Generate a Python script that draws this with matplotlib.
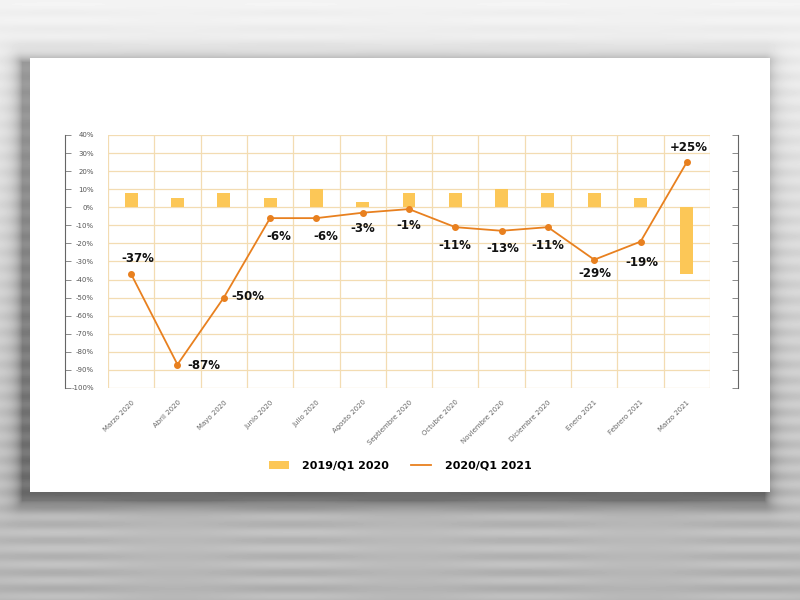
import numpy as np
import matplotlib.pyplot as plt
from matplotlib.patches import Rectangle, Patch
from matplotlib.lines import Line2D

meses = ['Marzo 2020', 'Abril 2020', 'Mayo 2020', 'Junio 2020', 'Julio 2020',
         'Agosto 2020', 'Septiembre 2020', 'Octubre 2020', 'Noviembre 2020',
         'Diciembre 2020', 'Enero 2021', 'Febrero 2021', 'Marzo 2021']
var_2019 = [8, 5, 8, 5, 10, 3, 8, 8, 10, 8, 8, 5, -37]
var_2020 = [-37, -87, -50, -6, -6, -3, -1, -11, -13, -11, -29, -19, 25]
etiquetas = ['-37%', '-87%', '-50%', '-6%', '-6%', '-3%', '-1%', '-11%',
             '-13%', '-11%', '-29%', '-19%', '+25%']
y_ticks = list(range(40, -101, -10))
leyenda = ['2019/Q1 2020', '2020/Q1 2021']

# label offsets in pixels (dx, dy, ha)
offs = [(7, 16, 'center'), (10, -1, 'left'), (8, 1, 'left'), (9, -18, 'center'),
        (9, -18, 'center'), (0, -16, 'center'), (0, -16, 'center'), (0, -18, 'center'),
        (1, -18, 'center'), (0, -18, 'center'), (1, -14, 'center'), (1, -21, 'center'),
        (2, 15, 'center')]

C_BAR = '#fcc757'
C_LINE = '#e8801f'
C_GRID = '#f3dcb2'
W, H = 800, 600

fig = plt.figure(figsize=(8, 6), dpi=100)

# blurred grey background with card shadow
yy, xx = np.mgrid[0:H, 0:W].astype(float)
t = yy / H
bg = 0.95 - 0.24 * t
bg += (0.012 + 0.03 * t) * np.sin(yy / 8.0 * np.pi) * (0.6 + 0.4 * np.sin(xx / 37.0))
cx0, cx1, cy0, cy1 = 22, 764, 62, 500
dx = np.maximum(np.maximum(cx0 - xx, xx - cx1), 0)
dy = np.maximum(np.maximum(cy0 - yy, yy - cy1), 0)
d = np.hypot(dx, dy)
bg -= 0.32 * np.exp(-d / 8.0)
bg = np.clip(bg, 0, 1)
axbg = fig.add_axes([0, 0, 1, 1])
axbg.imshow(bg, cmap='gray', vmin=0, vmax=1, extent=[0, W, H, 0], aspect='auto',
            interpolation='bilinear')
axbg.set_xlim(0, W)
axbg.set_ylim(H, 0)
axbg.axis('off')
axbg.add_patch(Rectangle((30, 58), 740, 434, facecolor='white', edgecolor='none'))

# main plot
ax = fig.add_axes([0.135, 1 - 388 / H, 0.7525, (388 - 135) / H])
ax.set_facecolor('none')
x = np.arange(len(meses))
ax.bar(x, var_2019, width=0.28, color=C_BAR, zorder=2)
ax.plot(x, var_2020, color=C_LINE, lw=1.3, marker='o', ms=4, zorder=3)
for i, (v, lab) in enumerate(zip(var_2020, etiquetas)):
    ox, oy, ha = offs[i]
    ax.annotate(lab, (i, v), xytext=(ox, oy), textcoords='offset pixels',
                ha=ha, va='center', fontsize=8.5, fontweight='bold',
                color='#111111', family='DejaVu Sans')

ax.set_xlim(-0.5, len(meses) - 0.5)
ax.set_ylim(-100, 40)
ax.set_yticks(y_ticks)
ax.set_yticklabels([f'{v}%' for v in y_ticks], fontsize=5, color='#555555')
ax.set_xticks(x)
ax.set_xticklabels(meses, rotation=45, ha='right', va='top', fontsize=5,
                   color='#666666', rotation_mode='anchor')
ax.tick_params(length=0, pad=10)
ax.tick_params(axis='x', pad=8)
for v in y_ticks:
    ax.axhline(v, color=C_GRID, lw=0.9, zorder=1)
for b in np.arange(-0.5, len(meses) + 0.5, 1):
    ax.axvline(b, color=C_GRID, lw=0.9, zorder=1)
for s in ax.spines.values():
    s.set_visible(False)

# side brackets
for xpos, side in [(65, 'left'), (738, 'right')]:
    a = fig.add_axes([xpos / W, 1 - 388 / H, 0.0001, (388 - 135) / H])
    a.set_ylim(-100, 40)
    a.set_facecolor('none')
    a.set_xticks([])
    a.set_yticks(y_ticks)
    for s in a.spines.values():
        s.set_visible(False)
    a.spines[side].set_visible(True)
    a.spines[side].set_color('#666666')
    a.spines[side].set_linewidth(0.8)
    if side == 'left':
        a.tick_params(axis='y', direction='in', length=4, width=0.6, color='#777777',
                      labelleft=False)
    else:
        a.yaxis.tick_right()
        a.tick_params(axis='y', direction='in', length=4, width=0.6, color='#777777',
                      labelright=False)

handles = [Patch(facecolor=C_BAR, edgecolor='none'),
           Line2D([0], [0], color=C_LINE, lw=1.3)]
fig.legend(handles, leyenda, loc='center', bbox_to_anchor=(0.5, 1 - 466 / H), ncol=2,
           frameon=False, prop={'size': 8, 'weight': 'bold'}, handlelength=1.8,
           columnspacing=2.0, handletextpad=1.2)

fig.savefig('out.png', dpi=100)
